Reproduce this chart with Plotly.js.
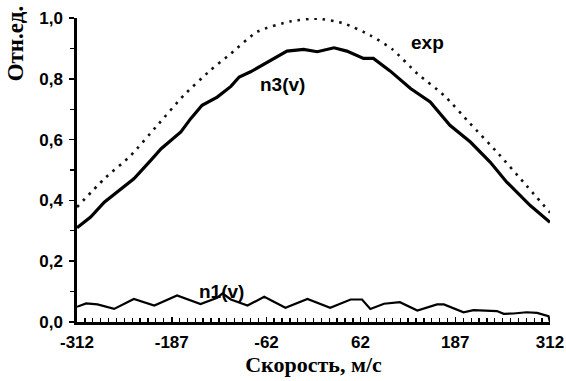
<!DOCTYPE html>
<html>
<head>
<meta charset="utf-8">
<script src="https://cdn.plot.ly/plotly-3.0.1.min.js"></script>
<style>html,body{margin:0;padding:0;background:#fff;}#chart{width:566px;height:381px;}</style>
</head>
<body>
<div id="chart"></div>
<script>
// exp (dotted) curve
const expV = [-312, -276, -241, -206, -171, -136, -109, -74, -30, 5, 40, 75, 104, 137, 172, 207, 242, 277, 312];
const expY = [0.378, 0.471, 0.548, 0.647, 0.746, 0.828, 0.883, 0.955, 0.989, 0.998, 0.982, 0.943, 0.897, 0.817, 0.746, 0.652, 0.559, 0.460, 0.360];

// n3(v) curve
const n3V = [-312, -294, -276, -254, -237, -215, -201, -175, -162, -147, -127, -109, -98, -83, -57, -35, -13, 5, 27, 44, 66, 79, 101, 115, 128, 154, 180, 207, 233, 255, 286, 312];
const n3Y = [0.310, 0.345, 0.394, 0.438, 0.471, 0.531, 0.570, 0.625, 0.669, 0.713, 0.740, 0.775, 0.806, 0.823, 0.861, 0.891, 0.897, 0.889, 0.902, 0.891, 0.867, 0.867, 0.826, 0.795, 0.768, 0.724, 0.647, 0.592, 0.526, 0.460, 0.383, 0.328];

// n1(v) curve
const n1V = [-312, -300, -285, -263, -237, -210, -180, -149, -127, -120, -109, -87, -65, -37, -8, 22, 49, 64, 75, 93, 114, 137, 163, 172, 198, 211, 242, 251, 264, 281, 295, 310, 312];
const n1Y = [0.050, 0.061, 0.058, 0.043, 0.076, 0.054, 0.087, 0.059, 0.080, 0.094, 0.074, 0.054, 0.083, 0.047, 0.076, 0.047, 0.074, 0.074, 0.043, 0.060, 0.065, 0.038, 0.058, 0.058, 0.032, 0.039, 0.036, 0.027, 0.028, 0.032, 0.030, 0.019, 0.0];

const xTicks = [-312, -187, -62, 62, 187, 312];
const xTickText = ['-312', '-187', '-62', '62', '187', '312'];
const yTicks = [0, 0.2, 0.4, 0.6, 0.8, 1.0];
const yTickText = ['0,0', '0,2', '0,4', '0,6', '0,8', '1,0'];

const sansBold = 'Liberation Sans, Arial, sans-serif';
const serif = 'Liberation Serif, Times New Roman, serif';

const traces = [
  {x: expV, y: expY, mode: 'lines', line: {color: '#111', width: 2.6, dash: '2.6px,5.8px', shape: 'spline', smoothing: 0.6}, cliponaxis: false, hoverinfo: 'skip'},
  {x: n3V, y: n3Y, mode: 'lines', line: {color: '#000', width: 3.2}, cliponaxis: false, hoverinfo: 'skip'},
  {x: n1V, y: n1Y, mode: 'lines', line: {color: '#000', width: 2.2}, cliponaxis: false, hoverinfo: 'skip'}
];

const layout = {
  width: 566, height: 381,
  margin: {l: 77, r: 16, t: 18, b: 59},
  paper_bgcolor: '#fff', plot_bgcolor: '#fff',
  showlegend: false,
  xaxis: {
    range: [-312, 312], showgrid: false, zeroline: false,
    showline: true, linecolor: '#000', linewidth: 2.6,
    tickvals: xTicks, ticktext: xTickText,
    ticks: 'inside', ticklen: 5, tickwidth: 1.5, tickcolor: '#000',
    minor: {tick0: -312, dtick: 10.4, ticks: 'inside', ticklen: 4, tickwidth: 1.3, tickcolor: '#000'},
    tickfont: {family: sansBold, size: 17, color: '#000', weight: 'bold'},
    ticklabelstandoff: 3,
    title: {text: '<b>Скорость, м/с</b>', font: {family: serif, size: 22, color: '#000'}, standoff: 5}
  },
  yaxis: {
    range: [0, 1.0], showgrid: false, zeroline: false,
    showline: true, linecolor: '#000', linewidth: 2.6,
    tickvals: yTicks, ticktext: yTickText,
    ticks: 'outside', ticklen: 5, tickwidth: 1.5, tickcolor: '#000',
    minor: {tickvals: [0.1, 0.3, 0.5, 0.7, 0.9], ticks: 'outside', ticklen: 4, tickwidth: 1.3, tickcolor: '#000'},
    tickfont: {family: sansBold, size: 17, color: '#000', weight: 'bold'},
    ticklabelstandoff: 3
  },
  annotations: [
    {xref: 'paper', yref: 'paper', x: -0.13, y: 1.045, xanchor: 'center', yanchor: 'top', text: '<b>Отн.ед.</b>', textangle: -90, showarrow: false, font: {family: serif, size: 23, color: '#000'}},
    {xref: 'x', yref: 'y', x: 151, y: 0.918, text: '<b>exp</b>', showarrow: false, font: {family: sansBold, size: 19, color: '#000'}},
    {xref: 'x', yref: 'y', x: -41, y: 0.78, text: '<b>n3(v)</b>', showarrow: false, font: {family: sansBold, size: 19, color: '#000'}},
    {xref: 'x', yref: 'y', x: -121, y: 0.1, text: '<b>n1(v)</b>', showarrow: false, font: {family: sansBold, size: 19, color: '#000'}}
  ]
};

Plotly.newPlot('chart', traces, layout, {staticPlot: true, displayModeBar: false});
</script>
</body>
</html>
